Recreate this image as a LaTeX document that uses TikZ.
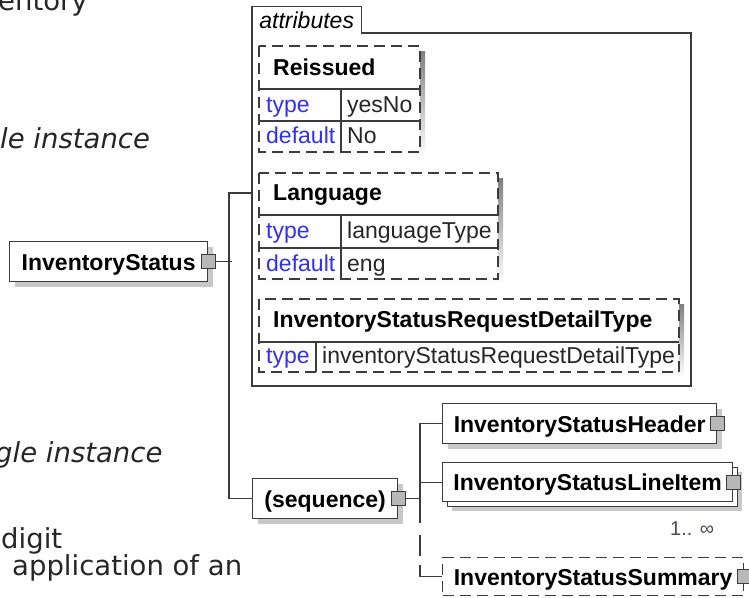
\documentclass[tikz,border=0pt]{standalone}
\usepackage{fontspec}
\setmainfont{Liberation Sans}
\newfontfamily\docfont{DejaVu Sans}
\usepackage{tikz}
\usetikzlibrary{positioning,shadows}
\definecolor{boxline}{HTML}{3C3C3C}
\definecolor{shade}{HTML}{C8C8C8}
\definecolor{keyblue}{HTML}{3030F8}
\definecolor{portgray}{HTML}{B8B8B8}
\definecolor{occur}{HTML}{4A4A66}
\newcommand{\elfont}{\fontsize{23}{27}\selectfont\bfseries}
\newcommand{\attfont}{\fontsize{23}{27}\selectfont}
\newcommand{\docsize}{\docfont\fontsize{27.5}{33}\selectfont}

\begin{document}
\begin{tikzpicture}[x=1pt,y=-1pt,
  conn/.style={draw=boxline,line width=1.2pt},
  cont/.style={draw=boxline,line width=1.5pt},
  elbox/.style={draw=boxline,line width=1.3pt,fill=white,font=\elfont,inner sep=0pt,
    minimum height=40pt,text height=17pt,text depth=0pt,anchor=north west},
  elem/.style={elbox,drop shadow={shadow xshift=5pt,shadow yshift=-5pt,fill=shade,opacity=1}},
  port/.style={draw=boxline,line width=1pt,fill=portgray,minimum size=14pt,inner sep=0pt},
  attbox/.style={draw=boxline,line width=1.3pt,fill=white,dash pattern=on 11pt off 6pt},
  cell/.style={draw=boxline,line width=1.3pt},
  atttitle/.style={font=\elfont,anchor=base west,inner sep=0pt},
  attkey/.style={font=\attfont,text=keyblue,anchor=base west,inner sep=0pt},
  attval/.style={font=\attfont,text=black!85,anchor=base west,inner sep=0pt},
  doc/.style={font=\docsize,text=black!85,anchor=base west,inner sep=0pt}]
\useasboundingbox (0,0) rectangle (749,597);
\clip (0,0) rectangle (749,597);
% page text behind the diagram
\node[doc] (txta) at (-2,10) {entory};
\node[doc,font=\docsize\itshape] (txtb) at (0,148) {le instance};
\node[doc,font=\docsize\itshape] (txtc) at (-5,462) {gle instance};
\node[doc] (txtd) at (1,548) {digit};
\node[doc] (txte) at (12,575) {application of an};
% attributes container
\node[font=\attfont\itshape,minimum width=109pt,minimum height=26pt,inner sep=0pt,anchor=south west] (tab) at (252,33) {attributes};
\draw[cont] (tab.south east) -- (691,33) -- (691,386) -- (252,386) -- (tab.north west) -- (tab.north east) -- cycle;
\coordinate (atin) at (252,193);
% Reissued
\fill[shade] (264,51) rectangle (425,157);
\draw[attbox] (259,46) rectangle (420,152);
\draw[cell] (259,89) -- (420,89) (259,121) -- (420,121) (341,89) -- (341,152);
\node[atttitle] (reis) at (273,75) {Reissued};
\node[attkey] (reistype) at (266,112) {type};
\node[attval] (reistypev) at (347,112) {yesNo};
\node[attkey] (reisdef) at (266,143) {default};
\node[attval] (reisdefv) at (347,143) {No};
% Language
\fill[shade] (264,178) rectangle (503,284);
\draw[attbox] (259,173) rectangle (498,279);
\draw[cell] (259,215) -- (498,215) (259,248) -- (498,248) (341,215) -- (341,279);
\node[atttitle] (lang) at (273,200) {Language};
\node[attkey] (langtype) at (266,238) {type};
\node[attval] (langtypev) at (347,238) {languageType};
\node[attkey] (langdef) at (266,271) {default};
\node[attval] (langdefv) at (347,271) {eng};
% InventoryStatusRequestDetailType
\fill[shade] (264,304) rectangle (684,377);
\draw[attbox] (259,299) rectangle (679,372);
\draw[cell] (259,342) -- (679,342) (316,342) -- (316,372);
\node[atttitle] (rqd) at (273,327) {InventoryStatusRequestDetailType};
\node[attkey] (rqdtype) at (266,363) {type};
\node[attval] (rqdtypev) at (322,363) {inventoryStatusRequestDetailType};
% elements
\node[elem,minimum width=198pt] (root) at (9,241) {InventoryStatus};
\node[port] (rp) at (root.east) {};
\node[elem,minimum width=145pt] (seq) at (252,478) {(sequence)};
\node[port] (sp) at (seq.east) {};
\node[elem,minimum width=274pt] (hdr) at (442,403) {InventoryStatusHeader};
\node[port] (hp) at (hdr.east) {};
\node[elbox,minimum width=290pt,minimum height=39pt,
  drop shadow={shadow xshift=9pt,shadow yshift=-9pt,fill=shade,opacity=1},
  copy shadow={shadow xshift=5pt,shadow yshift=-5pt,draw=boxline,fill=white,line width=1.3pt}] (itm) at (442,462) {InventoryStatusLineItem};
\node[port] (ipt) at (itm.east) {};
\node[font=\fontsize{20}{24}\selectfont,text=occur,anchor=base west,inner sep=0pt] (occ) at (670,535) {1.. ∞};
\node[elbox,dash pattern=on 11pt off 6pt,minimum width=301pt,minimum height=38pt] (sum) at (442,557) {InventoryStatusSummary};
\node[port] (smp) at (sum.east) {};
% connectors
\draw[conn] (rp.east) -- ++(16,0);
\draw[conn] (atin) -- ++(-23,0) |- (seq.west);
\draw[conn] (hdr.west) -- ++(-22,0) |- (sp.east);
\draw[conn] (itm.west) -- ++(-22,0);
\draw[conn,dash pattern=on 34pt off 9pt on 21pt off 12pt] (sum.west) -- ++(-22,0) |- (sp.east);
\end{tikzpicture}
\end{document}
